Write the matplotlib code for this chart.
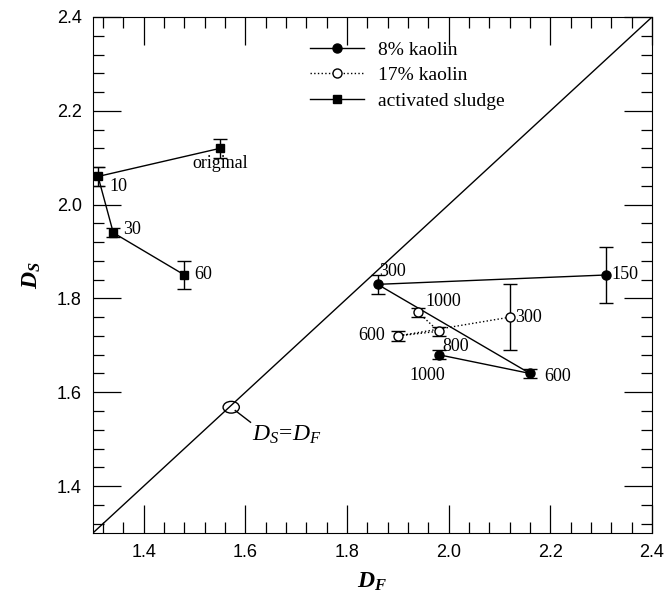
import matplotlib
matplotlib.use("Agg")
import matplotlib.pyplot as plt
from matplotlib.patches import Ellipse
from matplotlib.lines import Line2D
from matplotlib.ticker import MultipleLocator, FormatStrFormatter

plt.rcParams['mathtext.fontset'] = 'custom'
plt.rcParams['mathtext.rm'] = 'Liberation Serif'
plt.rcParams['mathtext.it'] = 'Liberation Serif:italic'
plt.rcParams['mathtext.bf'] = 'Liberation Serif:bold:italic'

# 8% kaolin (filled circles)
k8_df = [2.31, 1.86, 2.16, 1.98]
k8_ds = [1.85, 1.83, 1.64, 1.68]
k8_err = [0.06, 0.02, 0.01, 0.01]
k8_lab = ["150", "300", "600", "1000"]

# 17% kaolin (open circles)
k17_df = [2.12, 1.90, 1.98, 1.94]
k17_ds = [1.76, 1.72, 1.73, 1.77]
k17_err = [0.07, 0.01, 0.01, 0.01]
k17_lab = ["300", "600", "800", "1000"]

# activated sludge (squares)
as_df = [1.55, 1.31, 1.34, 1.48]
as_ds = [2.12, 2.06, 1.94, 1.85]
as_err = [0.02, 0.02, 0.01, 0.03]
as_lab = ["original", "10", "30", "60"]

serif = "Liberation Serif"

fig = plt.figure(figsize=(6.64, 6.07), dpi=100)
ax = fig.add_axes([0.140, 0.122, 0.842, 0.850])

ax.plot([1.3, 2.4], [1.3, 2.4], color="black", lw=1.0)

eb = dict(ecolor="black", elinewidth=1.0, capsize=5, capthick=1.0)
ax.errorbar(k8_df, k8_ds, yerr=k8_err, color="black", lw=1.0, marker="o",
            ms=6.5, mfc="black", mec="black", **eb)
ax.errorbar(k17_df, k17_ds, yerr=k17_err, color="black", lw=1.0, ls=":",
            marker="o", ms=6.5, mfc="white", mec="black", **eb)
ax.errorbar(as_df, as_ds, yerr=as_err, color="black", lw=1.0, marker="s",
            ms=5.5, mfc="black", mec="black", **eb)

fs = 13
# point labels
k8_off = [(4, 0, "left", "center"), (1, 9, "left", "center"),
          (10, -2, "left", "center"), (-8, -15, "center", "center")]
for x, y, t, (dx, dy, ha, va) in zip(k8_df, k8_ds, k8_lab, k8_off):
    ax.annotate(t, (x, y), xytext=(dx, dy), textcoords="offset points",
                ha=ha, va=va, fontsize=fs, family=serif)
k17_off = [(4, 0, "left", "center"), (-9, 0, "right", "center"),
          (3, -11, "left", "center"), (5, 8, "left", "center")]
for x, y, t, (dx, dy, ha, va) in zip(k17_df, k17_ds, k17_lab, k17_off):
    ax.annotate(t, (x, y), xytext=(dx, dy), textcoords="offset points",
                ha=ha, va=va, fontsize=fs, family=serif)
as_off = [(0, -11, "center", "center"), (8, -7, "left", "center"),
          (7, 2, "left", "center"), (7, 0, "left", "center")]
for x, y, t, (dx, dy, ha, va) in zip(as_df, as_ds, as_lab, as_off):
    ax.annotate(t, (x, y), xytext=(dx, dy), textcoords="offset points",
                ha=ha, va=va, fontsize=fs, family=serif)

# D_S = D_F marker
ax.add_patch(Ellipse((1.572, 1.568), 0.032, 0.025, fill=False, ec="black", lw=1.0))
ax.plot([1.58, 1.61], [1.561, 1.536], color="black", lw=1.0)
ax.text(1.612, 1.51, r"$D_S\!=\!D_F$", fontsize=17, ha="left", va="center")

ax.set_xlim(1.3, 2.4)
ax.set_ylim(1.3, 2.4)
ax.xaxis.set_major_locator(MultipleLocator(0.2))
ax.xaxis.set_minor_locator(MultipleLocator(0.04))
ax.yaxis.set_major_locator(MultipleLocator(0.2))
ax.yaxis.set_minor_locator(MultipleLocator(0.04))
ax.tick_params(which="both", direction="in", top=True, right=True, width=0.9)
ax.tick_params(which="major", length=20, labelsize=13, pad=8)
ax.tick_params(which="minor", length=8)
for lbl in ax.get_xticklabels() + ax.get_yticklabels():
    lbl.set_family("Liberation Sans")
ax.xaxis.set_major_formatter(FormatStrFormatter("%.1f"))
ax.yaxis.set_major_formatter(FormatStrFormatter("%.1f"))

ax.set_xlabel(r"$\mathbf{D}_{\mathbf{F}}$", fontsize=17, labelpad=6)
ax.set_ylabel(r"$\mathbf{D}_{\mathbf{S}}$", fontsize=17, labelpad=10)

handles = [
    Line2D([], [], color="black", lw=1.0, marker="o", ms=6.5, mfc="black"),
    Line2D([], [], color="black", lw=1.0, ls=":", marker="o", ms=6.5, mfc="white"),
    Line2D([], [], color="black", lw=1.0, marker="s", ms=5.5, mfc="black"),
]
ax.legend(handles, ["8% kaolin", "17% kaolin", "activated sludge"],
          loc="upper left", bbox_to_anchor=(0.37, 0.972), frameon=False,
          prop={"family": serif, "size": 14}, handlelength=2.8,
          handletextpad=0.7, labelspacing=0.4, borderpad=0)

fig.savefig("out.png", dpi=100)
